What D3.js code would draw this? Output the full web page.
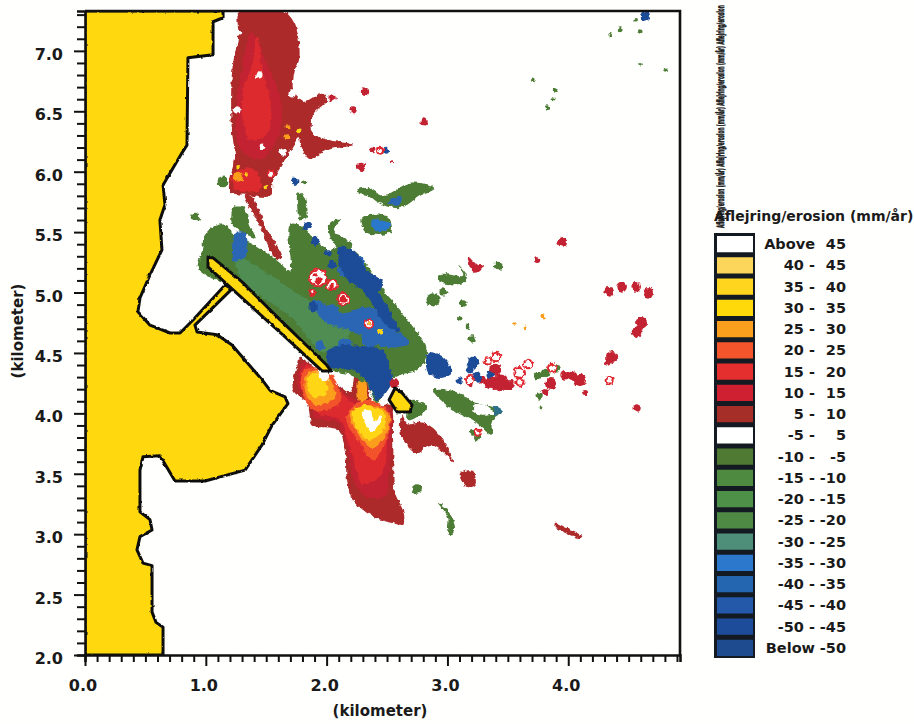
<!DOCTYPE html>
<html>
<head>
<meta charset="utf-8">
<title>Aflejring/erosion</title>
<script src="https://cdn.jsdelivr.net/npm/d3@7"></script>
<style>
  body { margin: 0; background: #fffffd; }
  text { font-family: "DejaVu Sans", sans-serif; font-weight: bold; fill: #1a1a1a; }
</style>
</head>
<body>
<script>
// all map outlines are in kilometres
var xDomain = [0, 4.925];
var yDomain = [2, 7.33];
var xLabels = [0, 1, 2, 3, 4];
var yLabels = [2, 2.5, 3, 3.5, 4, 4.5, 5, 5.5, 6, 6.5, 7];

var legendLabels = [["Above", "45"], ["40 -", "45"], ["35 -", "40"], ["30 -", "35"], ["25 -", "30"],
  ["20 -", "25"], ["15 -", "20"], ["10 -", "15"], ["5 -", "10"], ["-5 -", "5"], ["-10 -", "-5"],
  ["-15 -", "-10"], ["-20 -", "-15"], ["-25 -", "-20"], ["-30 -", "-25"], ["-35 -", "-30"],
  ["-40 -", "-35"], ["-45 -", "-40"], ["-50 -", "-45"], ["Below", "-50"]];
var legendColors = ["#ffffff", "#fbd65a", "#ffd51e", "#ffd90a", "#fa9e1e", "#f5552a", "#e52f2e", "#cf2031",
  "#a52f28", "#ffffff", "#4f7a33", "#4e8a40", "#4f9048", "#4f8a45", "#4d8f78", "#2c78cc", "#2566b0",
  "#2458a8", "#1c4c9a", "#1e4a90"];

var land = [[0,2],[.646,2],[.646,2.23],[.588,2.27],[.555,2.355],[.555,2.74],[.48,2.76],[.43,2.87],[.455,2.98],
  [.555,3.035],[.538,3.12],[.455,3.185],[.455,3.53],[.48,3.64],[.62,3.65],[.745,3.44],[.994,3.44],[1.325,3.53],
  [1.466,3.74],[1.548,3.9],[1.68,4.08],[1.656,4.136],[1.532,4.19],[1.466,4.277],[1.325,4.44],[1.217,4.566],
  [1.093,4.65],[.927,4.674],[.91,4.73],[1.217,5.03],[1.16,5.063],[.894,4.773],[.787,4.665],[.704,4.665],
  [.538,4.73],[.438,4.84],[.455,4.955],[.538,5.146],[.637,5.353],[.62,5.6],[.662,5.726],[.646,5.89],[.803,6.156],
  [.844,6.22],[.852,6.943],[1.06,6.968],[1.06,7.241],[1.143,7.274],[1.143,7.33],[0,7.33]];
var breakwater = [[1.018,5.287],[1.06,5.287],[1.3,5.088],[1.59,4.798],[2,4.4],[2.037,4.351],[1.962,4.351],
  [1.656,4.633],[1.217,5.03],[1.018,5.212]];
var island = [[2.567,4.21],[2.625,4.169],[2.707,4.07],[2.69,4.012],[2.583,4.012],[2.517,4.111]];

var southOuter = [[1.78,4.46],[1.945,4.343],[2.028,4.293],[2.194,4.177],[2.244,4.343],[2.318,4.36],[2.36,4.136],
  [2.384,4.045],[2.525,4.07],[2.55,3.78],[2.567,3.341],[2.633,3.2],[2.633,3.084],[2.542,3.093],[2.36,3.159],
  [2.21,3.3],[2.169,3.449],[2.153,3.672],[2.095,3.862],[1.888,3.904],[1.838,4.086],[1.722,4.194],[1.763,4.417]];
var southInner = [[1.805,4.417],[1.945,4.318],[2.169,4.152],[2.293,4.086],[2.384,4.028],[2.517,4.045],[2.534,3.78],
  [2.509,3.424],[2.484,3.308],[2.335,3.308],[2.219,3.449],[2.177,3.672],[2.095,3.92],[1.904,3.962],[1.863,4.111],[1.763,4.219]];
var southBright = [[1.83,4.4],[2.03,4.26],[2.2,4.1],[2.4,4.02],[2.5,4.03],[2.5,3.75],[2.46,3.5],[2.3,3.42],[2.2,3.7],
  [2.1,3.95],[1.93,4],[1.88,4.12],[1.79,4.22]];
var northLobe20 = [[1.82,4.36],[2,4.36],[2.12,4.1],[1.9,4.02],[1.79,4.2]];
var northLobe25 = [[1.846,4.343],[1.987,4.334],[2.07,4.136],[1.904,4.07],[1.821,4.194]];
var northLobe35 = [[1.863,4.318],[1.97,4.318],[2,4.169],[1.888,4.136],[1.838,4.219]];
var northLobeTop = [[1.93,4.36],[2.02,4.34],[2,4.27],[1.95,4.28]];
var southLobe20 = [[2.177,4.012],[2.335,4.111],[2.517,4.012],[2.509,3.821],[2.384,3.614],[2.277,3.755],[2.169,3.92]];
var southLobe25 = [[2.194,4.012],[2.335,4.07],[2.509,4.012],[2.509,3.863],[2.384,3.714],[2.277,3.805]];
var southLobe35 = [[2.219,4.012],[2.302,4.07],[2.484,3.987],[2.467,3.863],[2.36,3.78],[2.26,3.863]];
var southLobeTop = [[2.293,4],[2.343,4.028],[2.401,3.945],[2.459,3.987],[2.426,3.904],[2.376,3.846],[2.318,3.92]];
var neck = [[2.27,4.3],[2.3,4.3],[2.33,4.1],[2.27,4.1]];
var eastBranch = [[2.625,3.987],[2.666,3.92],[2.774,3.929],[2.881,3.879],[2.997,3.722],[3.047,3.598],[2.964,3.68],
  [2.856,3.738],[2.749,3.672],[2.674,3.722],[2.608,3.863]];
var eastBox = [[3.105,3.507],[3.212,3.523],[3.229,3.407],[3.163,3.39],[3.113,3.449]];
var seStrip = [[3.891,3.093],[3.97,3.06],[4.115,2.985],[4.1,2.968],[3.96,3.02],[3.891,3.051]];
var northOuter = [[1.283,7.33],[1.64,7.33],[1.739,7.216],[1.772,7.067],[1.772,6.926],[1.739,6.843],[1.722,6.678],
  [1.763,6.62],[1.805,6.578],[1.97,6.653],[2.004,6.595],[1.888,6.471],[1.88,6.322],[2.012,6.264],[2.219,6.222],
  [2.012,6.181],[1.863,6.106],[1.821,6.14],[1.763,6.289],[1.755,6.264],[1.672,6.123],[1.556,5.916],[1.532,5.792],
  [1.341,5.808],[1.2,5.833],[1.2,5.933],[1.242,6.123],[1.217,6.322],[1.217,6.819],[1.267,7.117]];
var northStrip = [[1.325,5.808],[1.382,5.792],[1.507,5.519],[1.631,5.295],[1.59,5.27],[1.449,5.543]];
var northMid = [[1.38,7.15],[1.5,6.9],[1.62,6.6],[1.6,6.3],[1.45,6.1],[1.28,6.2],[1.26,6.6],[1.3,6.85]];
var northCore = [[1.424,7.117],[1.474,6.819],[1.532,6.595],[1.515,6.322],[1.366,6.264],[1.308,6.454],[1.308,6.678],[1.382,6.868]];
var northFoot = [[1.22,5.98],[1.4,6.02],[1.45,5.85],[1.25,5.85]];
var northGreenBar = [[2.252,5.85],[2.343,5.866],[2.484,5.8],[2.691,5.908],[2.898,5.866],[2.774,5.8],[2.608,5.7],
  [2.467,5.726],[2.343,5.8],[2.252,5.825]];
var greenBlob = [[2.293,5.618],[2.509,5.626],[2.533,5.502],[2.335,5.494]];
var greenStub = [[1.23,5.7],[1.32,5.7],[1.36,5.55],[1.42,5.45],[1.3,5.5],[1.22,5.56]];
var greenSlim = [[1.763,5.825],[1.805,5.81],[1.838,5.626],[1.78,5.6],[1.755,5.742]];
var greenFinger = [[2.028,5.577],[2.11,5.6],[2.053,5.519],[2.219,5.394],[2.11,5.353],[2.028,5.469]];
var mainBand = [[.935,5.21],[.968,5.353],[.993,5.477],[1.076,5.552],[1.184,5.552],[1.242,5.452],[1.366,5.411],
  [1.614,5.245],[1.697,5.171],[1.697,5.56],[1.797,5.552],[1.913,5.419],[2.028,5.353],[2.111,5.378],[2.252,5.328],
  [2.467,5.022],[2.608,4.856],[2.832,4.5],[2.749,4.359],[2.608,4.318],[2.525,4.277],[2.418,4.086],[2.335,4.235],
  [2.194,4.318],[2.037,4.36],[1.614,4.773],[1.258,5.047],[.993,5.146]];
var mainBandTeal = [[1.25,5.3],[1.6,5.1],[1.9,4.9],[2.2,4.7],[2,4.5],[1.7,4.8],[1.3,5.1]];
var islandGreen = [[2.707,4.111],[2.832,4.053],[2.774,3.987],[2.674,3.945]];
var eastGreen = [[2.881,4.194],[3.08,4.177],[3.245,4.086],[3.378,4.053],[3.453,4.012],[3.378,3.945],[3.37,3.821],
  [3.212,3.945],[3.047,4.028]];
var eastGreenHole = [[3.22,4.07],[3.33,4.06],[3.38,4],[3.3,3.98],[3.22,4.01]];
var slimSouth = [[2.923,3.258],[2.98,3.225],[3.063,3.059],[3.022,2.993],[3.005,3.051],[3.005,3.142]];
var tShape = [[2.94,5.15],[3.13,5.14],[3.1,5.22],[3.16,5.14],[3.14,5.08],[2.94,5.09]];
var redBlobNE = [[3.171,5.295],[3.229,5.245],[3.287,5.212],[3.229,5.163],[3.188,5.212]];
var blueSouth = [[2.004,4.5],[2.1,4.56],[2.252,4.56],[2.467,4.52],[2.525,4.36],[2.55,4.277],[2.418,4.111],[2.335,4.252],[2.219,4.36],[2.028,4.384]];
var blueNE = [[2.095,5.37],[2.219,5.353],[2.335,5.187],[2.467,5.08],[2.418,4.997],[2.302,5.022],[2.194,5.08],[2.111,5.212]];
var blueLink = [[2.3,5.02],[2.42,5],[2.55,4.8],[2.6,4.68],[2.5,4.72],[2.38,4.9]];
var blueMid = [[1.888,4.939],[2.136,4.831],[2.36,4.881],[2.525,4.715],[2.691,4.583],[2.467,4.55],[2.252,4.666],[1.97,4.773]];
var blueNW = [[1.242,5.494],[1.325,5.494],[1.325,5.295],[1.225,5.27],[1.217,5.353]];
var blueEast = [[2.84,4.5],[2.964,4.467],[3.038,4.335],[2.939,4.293],[2.84,4.335]];
var blueInBar = [[2.5,5.75],[2.62,5.8],[2.6,5.72]];
var blueInBlob = [[2.376,5.6],[2.525,5.577],[2.509,5.519],[2.384,5.519]];
var blueEastEnd = [[3.39,4.06],[3.46,4.02],[3.39,3.98]];

// small patches as [x, y, radius] in km
var redSpots = [[3.949,5.419,.04],[3.743,5.27,.025],[4.339,5.005,.04],[4.446,5.047,.04],[4.562,5.047,.04],[4.661,4.997,.04],
  [4.603,4.749,.05],[4.57,4.674,.045],[4.363,4.467,.05],[4.33,4.426,.03],[3.974,4.31,.04],[4.032,4.31,.04],[4.098,4.277,.05],
  [3.858,4.243,.05],[4.57,4.045,.03],[4.14,4.169,.025],[3.809,4.177,.025],[2.807,6.413,.03],[2.318,6.661,.035],[2.045,6.612,.03],
  [2.219,6.512,.03],[2.376,6.181,.02],[2.285,6.04,.035],[2.542,6.082,.012],[3.436,4.252,.07],[3.395,4.36,.05],[3.353,4.252,.05],
  [3.519,4.235,.04],[3.287,4.277,.03],[3.188,4.235,.02],[2.56,4.25,.04]];
var ringSpots = [[3.403,4.467,.035],[3.337,4.434,.03],[3.188,4.277,.035],[3.594,4.335,.04],[3.668,4.409,.035],[3.867,4.376,.035],
  [4.339,4.277,.03],[2.442,6.173,.025],[1.929,5.121,.07],[2.045,5.063,.045],[2.136,4.947,.05],[2.351,4.74,.035],[1.879,5.005,.025],
  [3.6,4.26,.03],[1.54,5.982,.025],[3.25,3.84,.025]];
var ringCores = [[1.93,5.1,.03],[1.91,5.15,.018],[2.045,5.05,.022],[2.136,4.947,.03],[2.351,4.74,.015]];
var greenSpots = [[2.881,4.939,.055],[2.964,5.005,.03],[3.13,4.906,.03],[3.42,5.22,.035],[3.204,4.616,.03],[3.163,4.715,.02],
  [3.105,4.781,.02],[3.759,4.144,.03],[3.775,4.045,.012],[3.751,4.31,.035],[3.809,4.335,.035],[3.908,4.376,.03],[4.43,7.175,.02],
  [4.595,7.158,.02],[4.562,7.257,.015],[4.347,7.133,.015],[3.71,6.76,.02],[3.891,6.678,.02],[3.833,6.53,.02],[3.875,6.595,.012],
  [4.802,6.843,.015],[4.595,6.885,.015],[1.813,5.908,.02],[1.143,5.916,.045],[.91,5.626,.035],[2.749,3.374,.04],[3.25,3.8,.03],[3.21,3.84,.025]];
var blueSpots = [[4.637,7.29,.04],[3.212,4.426,.05],[3.188,4.36,.03],[3.245,4.302,.04],[3.353,4.318,.03],[3.097,4.268,.03],
  [2.492,6.173,.025],[1.739,5.916,.035],[1.838,5.552,.035],[1.913,5.428,.035],[2.012,5.328,.03],[2.045,5.229,.035],[1.888,4.881,.04]];
var midBlueSpots = [[2.153,5.187,.06],[2.26,5.25,.055],[2.376,5.02,.06],[2.484,4.79,.06],[2.591,4.624,.05],[2.21,4.79,.05],
  [2.045,4.856,.05],[2.36,4.608,.07],[2.153,4.566,.06],[1.946,4.566,.04],[2.3,5.12,.04]];
var whiteSpots = [[1.44,6.802,.03],[1.267,7.15,.025],[1.258,6.512,.03],[1.714,6.645,.03],[1.466,6.206,.02],[1.64,6.164,.03]];
var orangeSpots = [[1.267,5.957,.04],[1.68,6.372,.02],[1.672,6.289,.02],[3.79,4.806,.02],[3.55,4.74,.015],[3.643,4.707,.012]];
var yellowSpots = [[1.498,5.874,.02],[1.772,6.338,.02],[1.267,6.04,.015],[1.333,5.98,.015],[2.351,4.74,.012],[2.442,4.68,.02]];

var c5 = "#ac2a2b", c10 = "#c32330", c15 = "#dd2a2e", c20 = "#f2522a", c25 = "#fa9e1e", c35 = "#ffd618",
    gOut = "#4d7c36", gIn = "#4f8d52", blueDark = "#1d4c98", blueMed = "#2c66b4";

// drawing order, bottom to top
var patches = [
  [northOuter, c5], [northStrip, c5], [northMid, c10], [northCore, c15], [northFoot, c15],
  [southOuter, c5], [southInner, c10], [southBright, c15], [eastBranch, c5], [eastBox, c5], [seStrip, c5],
  [neck, c25],
  [northLobe20, c20], [northLobe25, c25], [northLobe35, c35], [northLobeTop, "#ffffff"],
  [southLobe20, c20], [southLobe25, c25], [southLobe35, c35], [southLobeTop, "#ffffff"],
  [northGreenBar, gOut], [greenBlob, gOut], [greenStub, gOut], [greenSlim, gOut], [greenFinger, gOut],
  [mainBand, gOut], [mainBandTeal, gIn], [islandGreen, gOut], [eastGreen, gOut], [eastGreenHole, "#ffffff"],
  [slimSouth, gOut], [tShape, gOut], [redBlobNE, c10],
  [blueMid, blueMed], [blueNW, blueMed], [blueSouth, blueDark], [blueNE, blueDark], [blueLink, blueDark],
  [blueEast, blueDark], [blueInBar, blueMed], [blueInBlob, "#2c78cc"], [blueEastEnd, "#2e6f8a"]
];

var margin = {left: 85, top: 11, right: 680, bottom: 655};

var x = d3.scaleLinear().domain(xDomain).range([margin.left, margin.right]);
var y = d3.scaleLinear().domain(yDomain).range([margin.bottom, margin.top]);
var kmToPx = function (km) { return x(km) - x(0); };

var svg = d3.select("body").append("svg")
    .attr("width", 914)
    .attr("height", 724)
    .style("display", "block");

var defs = svg.append("defs");
defs.append("clipPath").attr("id", "plot").append("rect")
    .attr("x", margin.left).attr("y", margin.top)
    .attr("width", margin.right - margin.left).attr("height", margin.bottom - margin.top);

// rough scanned edge, strong on the patches and light on the coast
function roughFilter(id, scale) {
  var f = defs.append("filter").attr("id", id)
      .attr("filterUnits", "userSpaceOnUse")
      .attr("x", 0).attr("y", 0).attr("width", 914).attr("height", 724);
  f.append("feTurbulence")
      .attr("type", "fractalNoise").attr("baseFrequency", 0.22).attr("numOctaves", 2).attr("seed", 4).attr("result", "noise");
  f.append("feDisplacementMap")
      .attr("in", "SourceGraphic").attr("in2", "noise").attr("scale", scale)
      .attr("xChannelSelector", "R").attr("yChannelSelector", "G").attr("result", "rough");
  f.append("feGaussianBlur").attr("in", "rough").attr("stdDeviation", 0.45);
}
roughFilter("soft", 5);
roughFilter("coast", 2.5);

var blob = d3.line().x(function (d) { return x(d[0]); }).y(function (d) { return y(d[1]); })
    .curve(d3.curveCatmullRomClosed.alpha(0.5));
var outline = d3.line().x(function (d) { return x(d[0]); }).y(function (d) { return y(d[1]); })
    .curve(d3.curveLinearClosed);

var map = svg.append("g").attr("clip-path", "url(#plot)");
var wash = map.append("g").attr("filter", "url(#soft)");

// split so the mottled blue goes between the green base and the dark blue
var firstBlue = patches.findIndex(function (d) { return d[0] === blueMid; });

function drawPatches(list) {
  wash.append("g").selectAll("path")
      .data(list)
      .enter().append("path")
      .attr("d", function (d) { return blob(d[0]); })
      .attr("fill", function (d) { return d[1]; });
}

function spots(list, color) {
  wash.append("g").selectAll("circle")
      .data(list)
      .enter().append("circle")
      .attr("cx", function (d) { return x(d[0]); })
      .attr("cy", function (d) { return y(d[1]); })
      .attr("r", function (d) { return kmToPx(d[2]); })
      .attr("fill", color);
}

drawPatches(patches.slice(0, firstBlue));
spots(midBlueSpots, blueMed);
drawPatches(patches.slice(firstBlue));
spots(redSpots, c10);
spots(greenSpots, gOut);
spots(blueSpots, blueDark);
spots(whiteSpots, "#ffffff");
spots(orangeSpots, c25);

wash.append("g").selectAll("circle")
    .data(ringSpots)
    .enter().append("circle")
    .attr("cx", function (d) { return x(d[0]); })
    .attr("cy", function (d) { return y(d[1]); })
    .attr("r", function (d) { return kmToPx(d[2]); })
    .attr("fill", "#ffffff")
    .attr("stroke", "#e0282e")
    .attr("stroke-width", 2);

spots(ringCores, "#d8242c");
spots(yellowSpots, c35);

// land, mole and the small island go on top with the black outline
map.append("g").attr("filter", "url(#coast)").selectAll("path.land")
    .data([land, breakwater, island])
    .enter().append("path")
    .attr("class", "land")
    .attr("d", outline)
    .attr("fill", "#ffd90f")
    .attr("stroke", "#111111")
    .attr("stroke-width", 3)
    .attr("stroke-linejoin", "round");

// axes
function range01(from, to) {
  var out = [];
  for (var i = Math.round(from * 10); i <= Math.round(to * 10); i++) out.push(i / 10);
  return out;
}

var xAxis = svg.append("g").attr("transform", "translate(0," + margin.bottom + ")")
    .call(d3.axisBottom(x).tickValues(range01(0, 4.9)).tickSize(7).tickFormat(""));
xAxis.selectAll(".tick line")
    .attr("y2", function (d) { return xLabels.indexOf(d) >= 0 ? 11 : 7; });

var yAxis = svg.append("g").attr("transform", "translate(" + margin.left + ",0)")
    .call(d3.axisLeft(y).tickValues(range01(2, 7.3)).tickSize(8).tickFormat(""));
yAxis.selectAll(".tick line")
    .attr("x2", function (d) { return yLabels.indexOf(d) >= 0 ? -11 : -8; });

svg.selectAll(".domain, .tick line").attr("stroke", "#111111").attr("stroke-width", 2);
svg.selectAll(".domain").attr("stroke-width", 2.6);

svg.append("path")
    .attr("d", "M" + margin.left + "," + margin.top + "H" + margin.right + "V" + margin.bottom)
    .attr("fill", "none").attr("stroke", "#111111").attr("stroke-width", 2.6);

svg.append("g").selectAll("text")
    .data(xLabels)
    .enter().append("text")
    .attr("x", function (d) { return x(d) - 2; })
    .attr("y", 691)
    .attr("text-anchor", "middle")
    .style("font-size", "16px")
    .text(function (d) { return d.toFixed(1); });

svg.append("g").selectAll("text")
    .data(yLabels)
    .enter().append("text")
    .attr("x", 63)
    .attr("y", function (d) { return y(d) + 9; })
    .attr("text-anchor", "end")
    .style("font-size", "16px")
    .text(function (d) { return d.toFixed(1); });

svg.append("text")
    .attr("x", 380).attr("y", 716)
    .attr("text-anchor", "middle")
    .style("font-size", "15px")
    .text("(kilometer)");

svg.append("text")
    .attr("transform", "translate(23,331)rotate(-90)")
    .attr("text-anchor", "middle")
    .style("font-size", "15px")
    .text("(kilometer)");

// legend
var legendY = d3.scaleBand()
    .domain(d3.range(legendLabels.length))
    .range([233, 658])
    .paddingInner(0);

var legend = svg.append("g");
legend.append("rect")
    .attr("x", 714).attr("y", 233)
    .attr("width", 41).attr("height", 425)
    .attr("fill", "#141a22");

var rows = legend.selectAll("g.row")
    .data(legendLabels)
    .enter().append("g")
    .attr("class", "row")
    .attr("transform", function (d, i) { return "translate(0," + legendY(i) + ")"; });

rows.append("rect")
    .attr("x", 717).attr("y", 3)
    .attr("width", 36)
    .attr("height", legendY.bandwidth() - 5)
    .attr("fill", function (d, i) { return legendColors[i]; });

rows.append("text")
    .attr("x", 815).attr("y", 16)
    .attr("text-anchor", "end")
    .style("font-size", "14.5px")
    .text(function (d) { return d[0]; });

rows.append("text")
    .attr("x", 846).attr("y", 16)
    .attr("text-anchor", "end")
    .style("font-size", "14.5px")
    .text(function (d) { return d[1]; });

legend.append("text")
    .attr("x", 714).attr("y", 221)
    .style("font-size", "14px")
    .text("Aflejring/erosion (mm/år)");

// the squashed vertical caption beside the plot, unreadable in the scan
legend.append("text")
    .attr("transform", "translate(724,228)rotate(-90)scale(0.42,1)")
    .style("font-size", "10px")
    .style("stroke", "#1a1a1a")
    .style("stroke-width", 0.7)
    .text("Aflejring/erosion (mm/år) Aflejring/erosion (mm/år) Aflejring/erosion (mm/år) Aflejring/erosion");
</script>
</body>
</html>
